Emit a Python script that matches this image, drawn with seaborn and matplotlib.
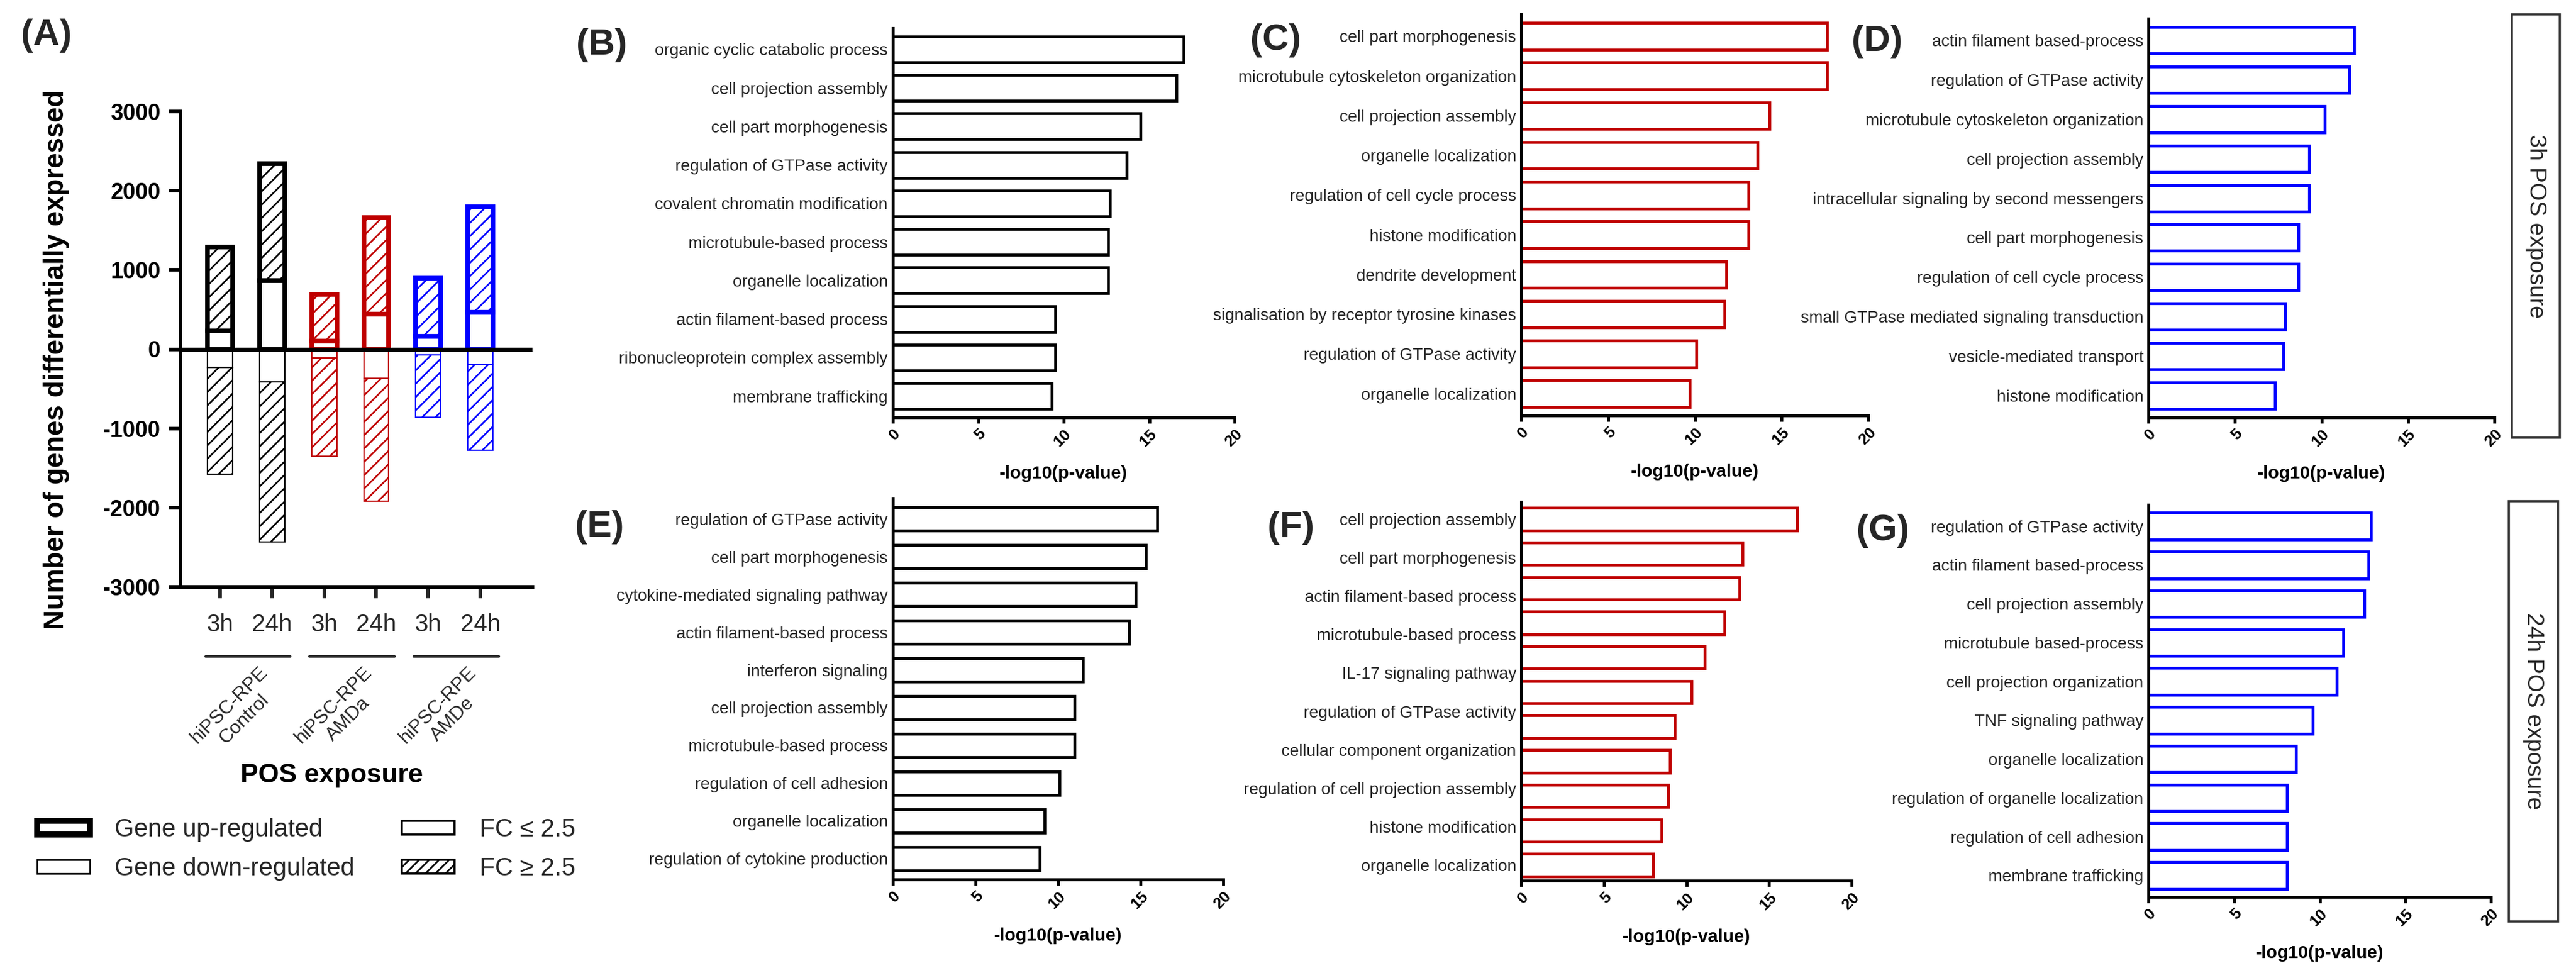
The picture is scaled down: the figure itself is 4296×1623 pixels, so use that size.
import numpy as np
import pandas as pd
import matplotlib
matplotlib.use("Agg")
import matplotlib.pyplot as plt
import matplotlib.transforms as mtransforms
from matplotlib.patches import Patch, Rectangle
import seaborn as sns

W, H, DPI = 4296, 1623, 200

# ---------------- data: panel A ----------------
cell_lines = ["hiPSC-RPE\nControl", "hiPSC-RPE\nAMDa", "hiPSC-RPE\nAMDe"]
times = ["3h", "24h", "3h", "24h", "3h", "24h"]
up_total = [1290, 2340, 690, 1660, 900, 1800]
up_low_fc = [234, 863, 100, 445, 160, 465]
down_total = [1580, 2430, 1348, 1921, 859, 1274]
down_low_fc = [234, 411, 111, 364, 75, 192]

# ---------------- data: GO panels ----------------
b_terms = ["organic cyclic catabolic process", "cell projection assembly", "cell part morphogenesis",
           "regulation of GTPase activity", "covalent chromatin modification", "microtubule-based process",
           "organelle localization", "actin filament-based process", "ribonucleoprotein complex assembly",
           "membrane trafficking"]
b_vals = [17.0, 16.6, 14.5, 13.7, 12.7, 12.6, 12.6, 9.5, 9.5, 9.3]

c_terms = ["cell part morphogenesis", "microtubule cytoskeleton organization", "cell projection assembly",
           "organelle localization", "regulation of cell cycle process", "histone modification",
           "dendrite development", "signalisation by receptor tyrosine kinases", "regulation of GTPase activity",
           "organelle localization"]
c_vals = [17.6, 17.6, 14.3, 13.6, 13.1, 13.1, 11.8, 11.7, 10.1, 9.7]

d_terms = ["actin filament based-process", "regulation of GTPase activity", "microtubule cytoskeleton organization",
           "cell projection assembly", "intracellular signaling by second messengers", "cell part morphogenesis",
           "regulation of cell cycle process", "small GTPase mediated signaling transduction",
           "vesicle-mediated transport", "histone modification"]
d_vals = [11.9, 11.6, 10.2, 9.3, 9.3, 8.65, 8.65, 7.9, 7.8, 7.3]

e_terms = ["regulation of GTPase activity", "cell part morphogenesis", "cytokine-mediated signaling pathway",
           "actin filament-based process", "interferon signaling", "cell projection assembly",
           "microtubule-based process", "regulation of cell adhesion", "organelle localization",
           "regulation of cytokine production"]
e_vals = [16.0, 15.3, 14.7, 14.3, 11.5, 11.0, 11.0, 10.1, 9.2, 8.9]

# panel F shows 11 bars but only 10 labels in the original
f_terms = ["cell projection assembly", "cell part morphogenesis", "actin filament-based process",
           "microtubule-based process", "IL-17 signaling pathway", "regulation of GTPase activity",
           "cellular component organization", "regulation of cell projection assembly", "histone modification",
           "organelle localization"]
f_vals = [16.7, 13.4, 13.2, 12.3, 11.1, 10.3, 9.3, 9.0, 8.9, 8.5, 8.0]

g_terms = ["regulation of GTPase activity", "actin filament based-process", "cell projection assembly",
           "microtubule based-process", "cell projection organization", "TNF signaling pathway",
           "organelle localization", "regulation of organelle localization", "regulation of cell adhesion",
           "membrane trafficking"]
g_vals = [13.0, 12.85, 12.6, 11.4, 11.0, 9.6, 8.6, 8.1, 8.1, 8.1]

BLACK = "#000000"
RED = "#bf0000"
BLUE = "#0000ff"
TXT = "#262626"

sns.set_theme(style="white")
plt.rcParams["font.family"] = ["Liberation Sans", "DejaVu Sans"]
plt.rcParams["hatch.linewidth"] = 1.0
plt.rcParams["axes.unicode_minus"] = False

fig = plt.figure(figsize=(W / DPI, H / DPI), dpi=DPI)


def add_ax(x0, x1, y0, y1):
    # pixel box -> figure fraction
    return fig.add_axes([x0 / W, 1 - y1 / H, (x1 - x0) / W, (y1 - y0) / H])


# ---------------- panel A ----------------
ax_top, ax_bot = 186, 979
axA = add_ax(301, 888, ax_top, ax_bot)
xpos = np.arange(len(times))
bar_cols = [c for c in (BLACK, RED, BLUE) for _ in range(2)]
up_low = np.array(up_low_fc)
up_high = np.array(up_total) - up_low
dn_low = np.array(down_low_fc)
dn_high = np.array(down_total) - dn_low

axA.bar(xpos, up_low, width=0.48, facecolor="white", edgecolor=bar_cols, linewidth=2.8, zorder=2)
axA.bar(xpos, up_high, bottom=up_low, width=0.48, facecolor="white", edgecolor=bar_cols,
        linewidth=2.8, hatch="///", zorder=2)
axA.bar(xpos, -dn_low, width=0.48, facecolor="white", edgecolor=bar_cols, linewidth=0.8, zorder=2)
axA.bar(xpos, -dn_high, bottom=-dn_low, width=0.48, facecolor="white", edgecolor=bar_cols,
        linewidth=0.8, hatch="///", zorder=2)
axA.axhline(0, color="black", linewidth=2.6, zorder=3)

axA.set_xlim(-0.76, 6.0)
axA.set_ylim(-3000, 3000)
axA.set_yticks(range(-3000, 3001, 1000))
axA.set_xticks(xpos, times)
axA.tick_params(axis="y", left=True, direction="out", length=7, width=2.2, pad=5,
                labelsize=13.5, colors="black")
axA.tick_params(axis="x", bottom=True, direction="out", length=7, width=2.2, pad=9,
                labelsize=14.5, labelcolor=TXT)
for lab in axA.get_yticklabels():
    lab.set_fontweight("bold")
for s in ("top", "right"):
    axA.spines[s].set_visible(False)
for s in ("left", "bottom"):
    axA.spines[s].set_linewidth(2.2)
    axA.spines[s].set_color("black")


def ay(ypx):
    return (ax_bot - ypx) / (ax_bot - ax_top)


blend = mtransforms.blended_transform_factory(axA.transData, axA.transAxes)
for g, name in enumerate(cell_lines):
    axA.plot([2 * g - 0.28, 2 * g + 1.35], [ay(1095), ay(1095)], color=TXT, linewidth=1.5,
             transform=blend, clip_on=False)
    axA.text(2 * g + 0.74, ay(1106), name, transform=blend, rotation=45, ha="right", va="top",
             rotation_mode="anchor", multialignment="center", fontsize=11.5, color=TXT)

axA.set_xlabel("POS exposure", fontsize=16, fontweight="bold", color="black")
axA.xaxis.set_label_coords((553 - 301) / 587, ay(1294))
axA.xaxis.label.set_va("center")
axA.set_ylabel("Number of genes differentially expressed", fontsize=16.5, fontweight="bold", color="black")
axA.yaxis.set_label_coords((94 - 301) / 587, ay(600))
axA.yaxis.label.set_va("center")

# legend for panel A
handles = [Patch(facecolor="white", edgecolor="black", linewidth=3.6),
           Patch(facecolor="white", edgecolor="black", linewidth=1.0),
           Patch(facecolor="white", edgecolor="black", linewidth=1.3),
           Patch(facecolor="white", edgecolor="black", linewidth=1.3, hatch="////")]
labels = ["Gene up-regulated", "Gene down-regulated", "FC \u2264 2.5", "FC \u2265 2.5"]
fig.legend(handles, labels, ncol=2, loc="upper left", bbox_to_anchor=(62 / W, 1 - 1364 / H),
           frameon=False, fontsize=15, handlelength=2.1, handleheight=0.48, handletextpad=1.0,
           columnspacing=1.9, labelspacing=0.6, borderpad=0, borderaxespad=0, labelcolor=TXT)


# ---------------- GO panels ----------------
def go_panel(box, terms, vals, color, label_pos=None, bar_h=0.67, pad_top=0.55, pad_bot=0.55):
    ax = add_ax(*box)
    n = len(vals)
    df = pd.DataFrame({"pos": np.arange(n), "val": vals})
    sns.barplot(data=df, x="val", y="pos", orient="y", color="white", edgecolor=color,
                linewidth=1.7, width=bar_h, errorbar=None, ax=ax)
    if label_pos is None:
        label_pos = np.arange(n)
    ax.set_ylim(n - 1 + pad_bot, -pad_top)
    ax.set_xlim(0, 20)
    ax.set_yticks(label_pos, terms)
    ax.set_xticks([0, 5, 10, 15, 20])
    ax.set_xticklabels(["0", "5", "10", "15", "20"], rotation=45, ha="right",
                       rotation_mode="anchor", fontweight="bold", fontsize=9.5)
    ax.tick_params(axis="y", left=False, length=0, pad=3, labelsize=10, labelcolor=TXT)
    ax.tick_params(axis="x", bottom=True, direction="out", length=3.6, width=1.8, pad=2,
                   colors="black")
    for s in ("top", "right"):
        ax.spines[s].set_visible(False)
    for s in ("left", "bottom"):
        ax.spines[s].set_linewidth(1.8)
        ax.spines[s].set_color("black")
    ax.set_ylabel("")
    ax.set_xlabel("-log10(p-value)", fontsize=10.8, fontweight="bold", color="black")
    y0, y1 = box[2], box[3]
    ax.xaxis.set_label_coords(0.5, -94 / (y1 - y0))
    ax.xaxis.label.set_va("center")
    return ax


go_panel((1489, 2059, 47, 696), b_terms, b_vals, BLACK)
go_panel((2537, 3116, 24, 693), c_terms, c_vals, RED)
go_panel((3583, 4160, 31, 696), d_terms, d_vals, BLUE)
go_panel((1489, 2040, 831, 1467), e_terms, e_vals, BLACK, bar_h=0.63)
go_panel((2537, 3088, 837, 1469), f_terms, f_vals, RED, label_pos=np.linspace(0, 10, 10),
         bar_h=0.65, pad_top=0.5, pad_bot=0.45)
go_panel((3583, 4154, 842, 1496), g_terms, g_vals, BLUE, bar_h=0.69)

# panel letters
for txt, (px, py) in {"(A)": (77, 60), "(B)": (1003, 76), "(C)": (2127, 68), "(D)": (3130, 69),
                      "(E)": (1000, 880), "(F)": (2153, 881), "(G)": (3140, 885)}.items():
    fig.text(px / W, 1 - py / H, txt, ha="center", va="center", fontsize=22, fontweight="bold")

# row boxes on the right
for (x0, x1, y0, y1), txt in [((4189, 4269, 24, 730), "3h POS exposure"),
                              ((4184, 4266, 836, 1537), "24h POS exposure")]:
    fig.add_artist(Rectangle((x0 / W, 1 - y1 / H), (x1 - x0) / W, (y1 - y0) / H,
                             transform=fig.transFigure, facecolor="none", edgecolor="#333333",
                             linewidth=1.3))
    fig.text((x0 + x1) / 2 / W, 1 - (y0 + y1) / 2 / H, txt, rotation=270, ha="center", va="center",
             fontsize=14, color=TXT)

fig.savefig("out.png", dpi=DPI, facecolor="white")
